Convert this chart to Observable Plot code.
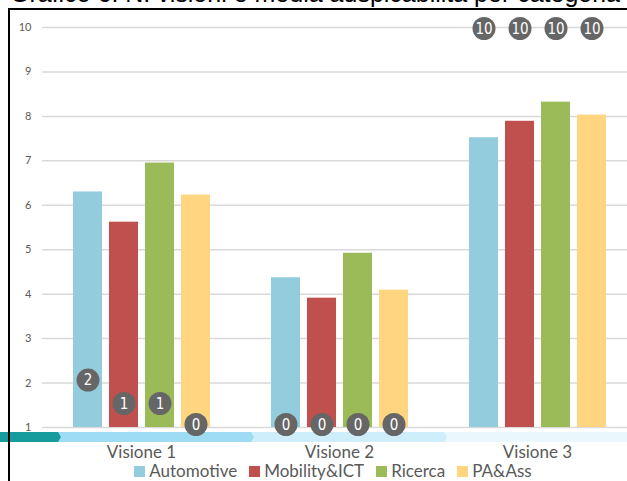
<!DOCTYPE html>
<html>
<head>
<meta charset="utf-8">
<script src="https://cdn.jsdelivr.net/npm/d3@7"></script>
<script src="https://cdn.jsdelivr.net/npm/@observablehq/plot@0.6"></script>
<style>
  html, body { margin: 0; padding: 0; background: #fff; overflow: hidden; width: 627px; height: 481px; }
  #title { position: absolute; left: 10px; top: -19px; font: 25px "Liberation Sans", Arial, sans-serif; line-height: 25px; color: #000; white-space: nowrap; }
  #box { position: absolute; left: 8px; top: 8px; width: 700px; height: 600px; border-top: 2px solid #000; border-left: 2px solid #000; z-index: 3; pointer-events: none; }
  #chart { position: absolute; left: 0; top: 0; width: 646px; }
  #legend { position: absolute; left: 0; top: 461px; width: 666px; display: flex; justify-content: center; font: 17px Lato, "Open Sans", sans-serif; color: #595959; }
  #legend .item { display: flex; align-items: flex-end; margin: 0 6px; line-height: 19px; }
  #legend .sw { width: 11px; height: 11px; margin: 0 4px 3px 0; }
</style>
</head>
<body>
<div id="title">Grafico 6: N. visioni e media auspicabilità per categoria</div>
<div id="chart"></div>
<div id="legend"></div>
<div id="box"></div>
<script>
// Visions (groups on the x axis) and respondent categories (bars within a group)
const visions = ["Visione 1", "Visione 2", "Visione 3"];
const categories = ["Automotive", "Mobility&ICT", "Ricerca", "PA&Ass"];
const colors = ["#93cddd", "#c0504d", "#9bbb59", "#ffd580"];

// Average desirability per category, one value per vision
const automotiveMean = [6.30, 4.37, 7.52];
const mobilityMean   = [5.62, 3.91, 7.89];
const ricercaMean    = [6.95, 4.92, 8.32];
const paMean         = [6.23, 4.09, 8.03];

// Number of visions per category (shown in the grey bubbles)
const automotiveCount = [2, 0, 10];
const mobilityCount   = [1, 0, 10];
const ricercaCount    = [1, 0, 10];
const paCount         = [0, 0, 10];

const yTicks = [1, 2, 3, 4, 5, 6, 7, 8, 9, 10];

const means = [automotiveMean, mobilityMean, ricercaMean, paMean];
const counts = [automotiveCount, mobilityCount, ricercaCount, paCount];

const rows = [];
categories.forEach((c, ci) => {
  visions.forEach((v, vi) => {
    rows.push({vision: v, category: c, value: means[ci][vi], count: counts[ci][vi]});
  });
});

// Bubbles sit at their count on the value axis (floored at the baseline);
// small vertical nudges keep the low ones from piling up on the axis.
const nudge = {0: -3, 1: -24, 2: -3, 10: 1};
const bubbleMarks = Object.keys(nudge).flatMap(k => {
  const subset = rows.filter(d => d.count === +k);
  return [
    Plot.dot(subset, {fx: "vision", x: "category", y: d => Math.max(d.count, 1), dy: nudge[k], r: 11.5, fill: "#666666"}),
    Plot.text(subset, {fx: "vision", x: "category", y: d => Math.max(d.count, 1), dy: nudge[k] + 0.5, text: d => String(d.count),
      fill: "#ffffff", fontSize: 15, fontFamily: "'Liberation Sans Narrow', 'DejaVu Sans Condensed', sans-serif"})
  ];
});

const width = 646, marginLeft = 42, marginRight = 10;

const plot = Plot.plot({
  width,
  height: 460,
  marginTop: 27,
  marginBottom: 33,
  marginLeft,
  marginRight,
  style: {background: "transparent", overflow: "visible", maxWidth: "none"},
  fx: {domain: visions, padding: 0},
  x: {domain: categories, paddingInner: 0.2, paddingOuter: 0.85, axis: null},
  y: {domain: [1, 10]},
  color: {domain: categories, range: colors},
  marks: [
    Plot.gridY(yTicks, {stroke: "#d9d9d9", strokeOpacity: 1, strokeWidth: 1.5}),
    Plot.axisY(yTicks, {tickSize: 0, tickPadding: 11, fontSize: 11, color: "#595959", fontFamily: "Lato, sans-serif", label: null}),
    Plot.barY(rows, {fx: "vision", x: "category", y1: () => 1, y2: "value", fill: "category"}),
    Plot.axisFx({anchor: "bottom", tickSize: 0, tickPadding: 18, fontSize: 17, color: "#595959", fontFamily: "Lato, 'Open Sans', sans-serif", label: null}),
    ...bubbleMarks
  ]
});

document.getElementById("chart").appendChild(plot);

// Process ribbon under the axis: one chevron per vision, plus a lead-in
const band = d3.scaleBand().domain(visions).range([marginLeft, width - marginRight]);
const starts = visions.map((v, i) => band(v) + 16 - 5 * i);
const segs = [
  {x0: -5, x1: starts[0], fill: "#169c9c"},
  {x0: starts[0], x1: starts[1], fill: "#9edcf4"},
  {x0: starts[1], x1: starts[2], fill: "#cdeefa"},
  {x0: starts[2], x1: width + 20, fill: "#eaf8fd"}
];
const ribbon = d3.select(plot).insert("g", ":first-child");
const yTop = 432, yBot = 442, tip = 3;
segs.slice().reverse().forEach(s => {
  ribbon.append("path")
    .attr("d", `M${s.x0},${yTop}H${s.x1}L${s.x1 + tip},${(yTop + yBot) / 2}L${s.x1},${yBot}H${s.x0}Z`)
    .attr("fill", s.fill);
});

// Legend below the chart
const legend = d3.select("#legend");
categories.forEach((c, i) => {
  const item = legend.append("div").attr("class", "item");
  item.append("div").attr("class", "sw").style("background", colors[i]);
  item.append("span").text(c);
});
</script>
</body>
</html>
